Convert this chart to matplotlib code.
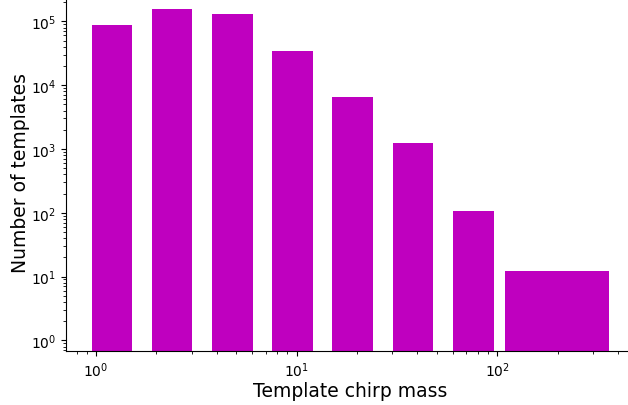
import matplotlib
matplotlib.use("Agg")
import matplotlib.pyplot as plt

# bin edges of each bar (template chirp mass) and the count in each bin
bin_left = [0.951, 1.90, 3.80, 7.57, 15.1, 30.3, 60.3, 109.6]
bin_right = [1.517, 3.02, 6.04, 12.1, 24.0, 48.0, 96.6, 361.0]
counts = [86500, 156000, 132000, 34600, 6440, 1220, 105, 12.2]

fig = plt.figure(figsize=(6.28, 4.06), dpi=100)
# axes run a little past the top and right edge, like the cropped original
ax = fig.add_axes([0.1051, 0.1337, 0.906, 0.882])

widths = [r - l for l, r in zip(bin_left, bin_right)]
ax.bar(bin_left, counts, width=widths, align='edge', color='m', bottom=1e-3)

ax.set_xscale('log')
ax.set_yscale('log')
ax.set_xlim(10 ** -0.1496, 10 ** 2.687)
ax.set_ylim(10 ** -0.163, 10 ** 5.45)

ax.spines['top'].set_visible(False)
ax.spines['right'].set_visible(False)

ax.set_xlabel("Template chirp mass", fontsize=13.5, labelpad=1.5)
ax.set_ylabel("Number of templates", fontsize=13.5, labelpad=1)

fig.savefig("out.png", dpi=100)
